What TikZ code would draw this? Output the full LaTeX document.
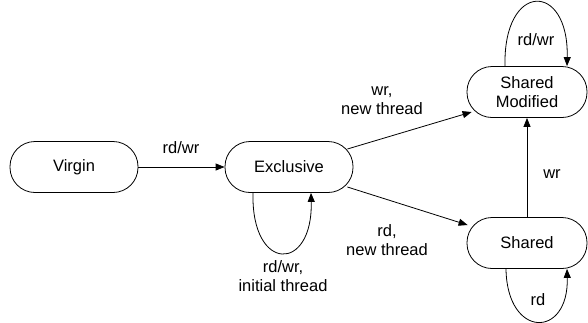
\documentclass[tikz,border=0pt]{standalone}
\usepackage{fontspec}
\setmainfont{Liberation Sans}
\usetikzlibrary{arrows.meta,calc}
\begin{document}
\begin{tikzpicture}[x=1pt,y=-1pt,
  state/.style={draw,line width=0.8pt,rounded corners=25pt,minimum width=128pt,minimum height=51pt,align=center,inner sep=0pt,font=\fontsize{16.5}{19}\selectfont},
  narrow/.style={minimum width=120pt},
  lbl/.style={align=center,inner sep=0pt,font=\fontsize{16.5}{19}\selectfont},
  conn/.style={line width=0.8pt,-{Triangle[length=9pt,width=7pt]}}]
\useasboundingbox (0,0) rectangle (588,322);
\node[state] (vi) at (74,167) {Virgin};
\node[state] (ex) at (289,167) {Exclusive};
\node[state,narrow] (sm) at (527,92) {Shared\\Modified};
\node[state,narrow] (sh) at (527,243) {Shared};
\draw[conn] (vi) -- (ex);
\draw[conn] ($(ex.east)+(-6,-18)$) -- ($(sm.west)+(5,20)$);
\draw[conn] ($(ex.east)+(-6,20)$) -- ($(sh.west)+(1,-18)$);
\draw[conn] (sh) -- (sm);
\draw[conn] ($(ex.south)+(-36,0)$) .. controls ($(ex.south)+(-38,80)$) and ($(ex.south)+(24,80)$) .. ($(ex.south)+(22,0)$);
\draw[conn] ($(sm.north)+(-22,0)$) .. controls ($(sm.north)+(-24,-85)$) and ($(sm.north)+(42,-85)$) .. ($(sm.north)+(40,0)$);
\draw[conn] ($(sh.south)+(-21,0)$) .. controls ($(sh.south)+(-20,70)$) and ($(sh.south)+(42,70)$) .. ($(sh.south)+(40,0)$);
\node[lbl] (l1) at (181,148) {rd/wr};
\node[lbl] (l2) at (382,101) {wr,\\new thread};
\node[lbl] (l3) at (387,240) {rd,\\new thread};
\node[lbl] (l4) at (552,174) {wr};
\node[lbl] (l5) at (283,276) {rd/wr,\\initial thread};
\node[lbl] (l6) at (536,40) {rd/wr};
\node[lbl] (l7) at (538,300) {rd};
\end{tikzpicture}
\end{document}
